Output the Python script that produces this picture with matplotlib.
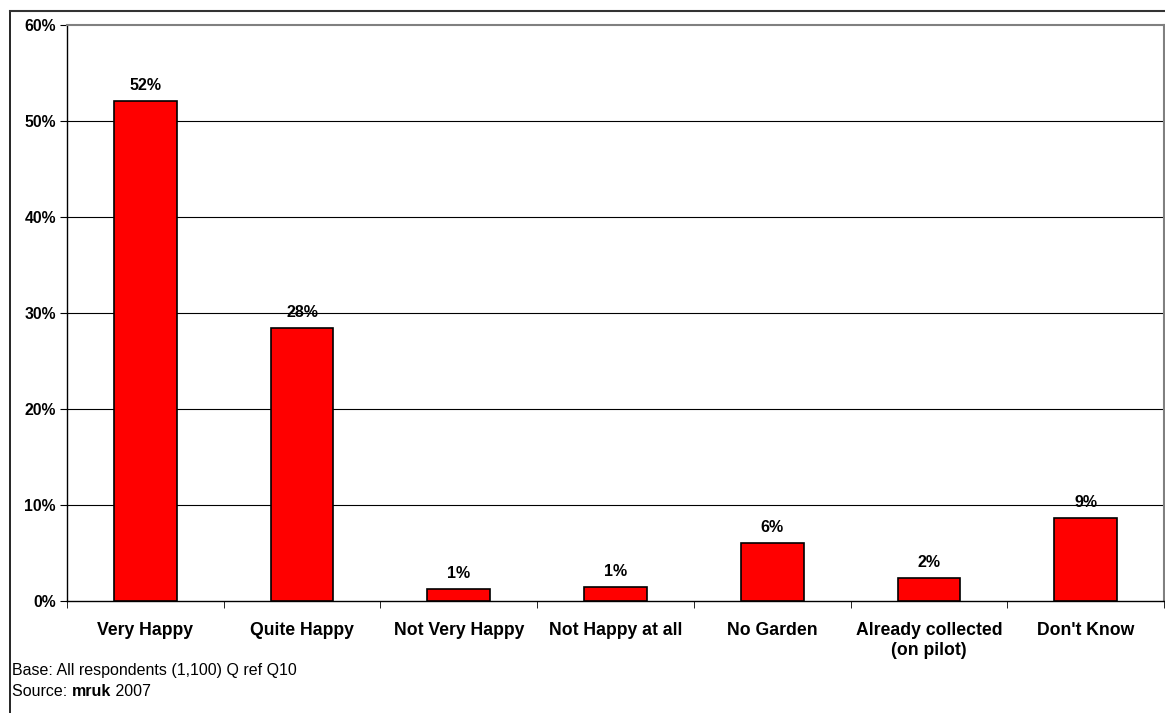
import matplotlib
matplotlib.use("Agg")
import matplotlib.pyplot as plt
from matplotlib.lines import Line2D
import numpy as np

categories = ["Very Happy", "Quite Happy", "Not Very Happy", "Not Happy at all",
              "No Garden", "Already collected\n(on pilot)", "Don't Know"]
values = [52.1, 28.4, 1.25, 1.45, 6.05, 2.4, 8.6]
labels = ["52%", "28%", "1%", "1%", "6%", "2%", "9%"]
yticks = [0, 10, 20, 30, 40, 50, 60]

plt.rcParams['font.family'] = ['Liberation Sans', 'DejaVu Sans']

fig = plt.figure(figsize=(11.65, 7.13), dpi=100)
ax = fig.add_axes([67/1165, 112/713, 1097/1165, 576/713])

x = np.arange(len(categories))
ax.bar(x, values, width=0.40, color="#ff0000", edgecolor="black", linewidth=1.2, zorder=3)
for xi, v, lab in zip(x, values, labels):
    ax.annotate(lab, (xi, v), xytext=(0, 6), textcoords="offset points",
                ha="center", va="bottom", fontsize=11.5, fontweight="bold", zorder=4)

ax.set_xlim(-0.5, len(categories) - 0.5)
ax.set_ylim(0, 60)
ax.set_yticks(yticks)
ax.set_yticklabels([f"{t}%" for t in yticks], fontsize=11.3, fontweight="bold")
for t in yticks[1:-1]:
    ax.axhline(t, color="black", linewidth=0.8, zorder=1)

ax.set_xticks(x)
ax.set_xticklabels(categories, fontsize=12.7, fontweight="bold", linespacing=1.25)
ax.tick_params(axis="x", length=0, pad=15)
ax.set_xticks(np.arange(-0.5, len(categories) + 0.5, 1), minor=True)
ax.tick_params(axis="x", which="minor", length=5, direction="out", color="black")
ax.tick_params(axis="y", length=5, direction="out", pad=3)

for s in ["left", "bottom"]:
    ax.spines[s].set_color("black")
    ax.spines[s].set_linewidth(1.0)
for s in ["top", "right"]:
    ax.spines[s].set_color("#808080")
    ax.spines[s].set_linewidth(1.5)

# outer frame
fig.add_artist(Line2D([10/1165, 10/1165], [0, 1 - 11/713], transform=fig.transFigure,
                      color="black", linewidth=1.2))
fig.add_artist(Line2D([10/1165, 1], [1 - 11/713, 1 - 11/713], transform=fig.transFigure,
                      color="#333333", linewidth=1.5))

fs = 11.5
fig.text(12/1165, 1 - 671/713, "Base: All respondents (1,100) Q ref Q10", fontsize=fs,
         va="center", ha="left")
t = fig.text(12/1165, 1 - 691/713, "Source: ", fontsize=fs, va="center", ha="left")
fig.canvas.draw()
bb = t.get_window_extent()
t2 = fig.text(bb.x1 / fig.bbox.width, 1 - 691/713, "mruk", fontsize=fs, fontweight="bold",
              va="center", ha="left")
fig.canvas.draw()
bb2 = t2.get_window_extent()
fig.text(bb2.x1 / fig.bbox.width, 1 - 691/713, " 2007", fontsize=fs, va="center", ha="left")

fig.savefig("out.png", dpi=100)
